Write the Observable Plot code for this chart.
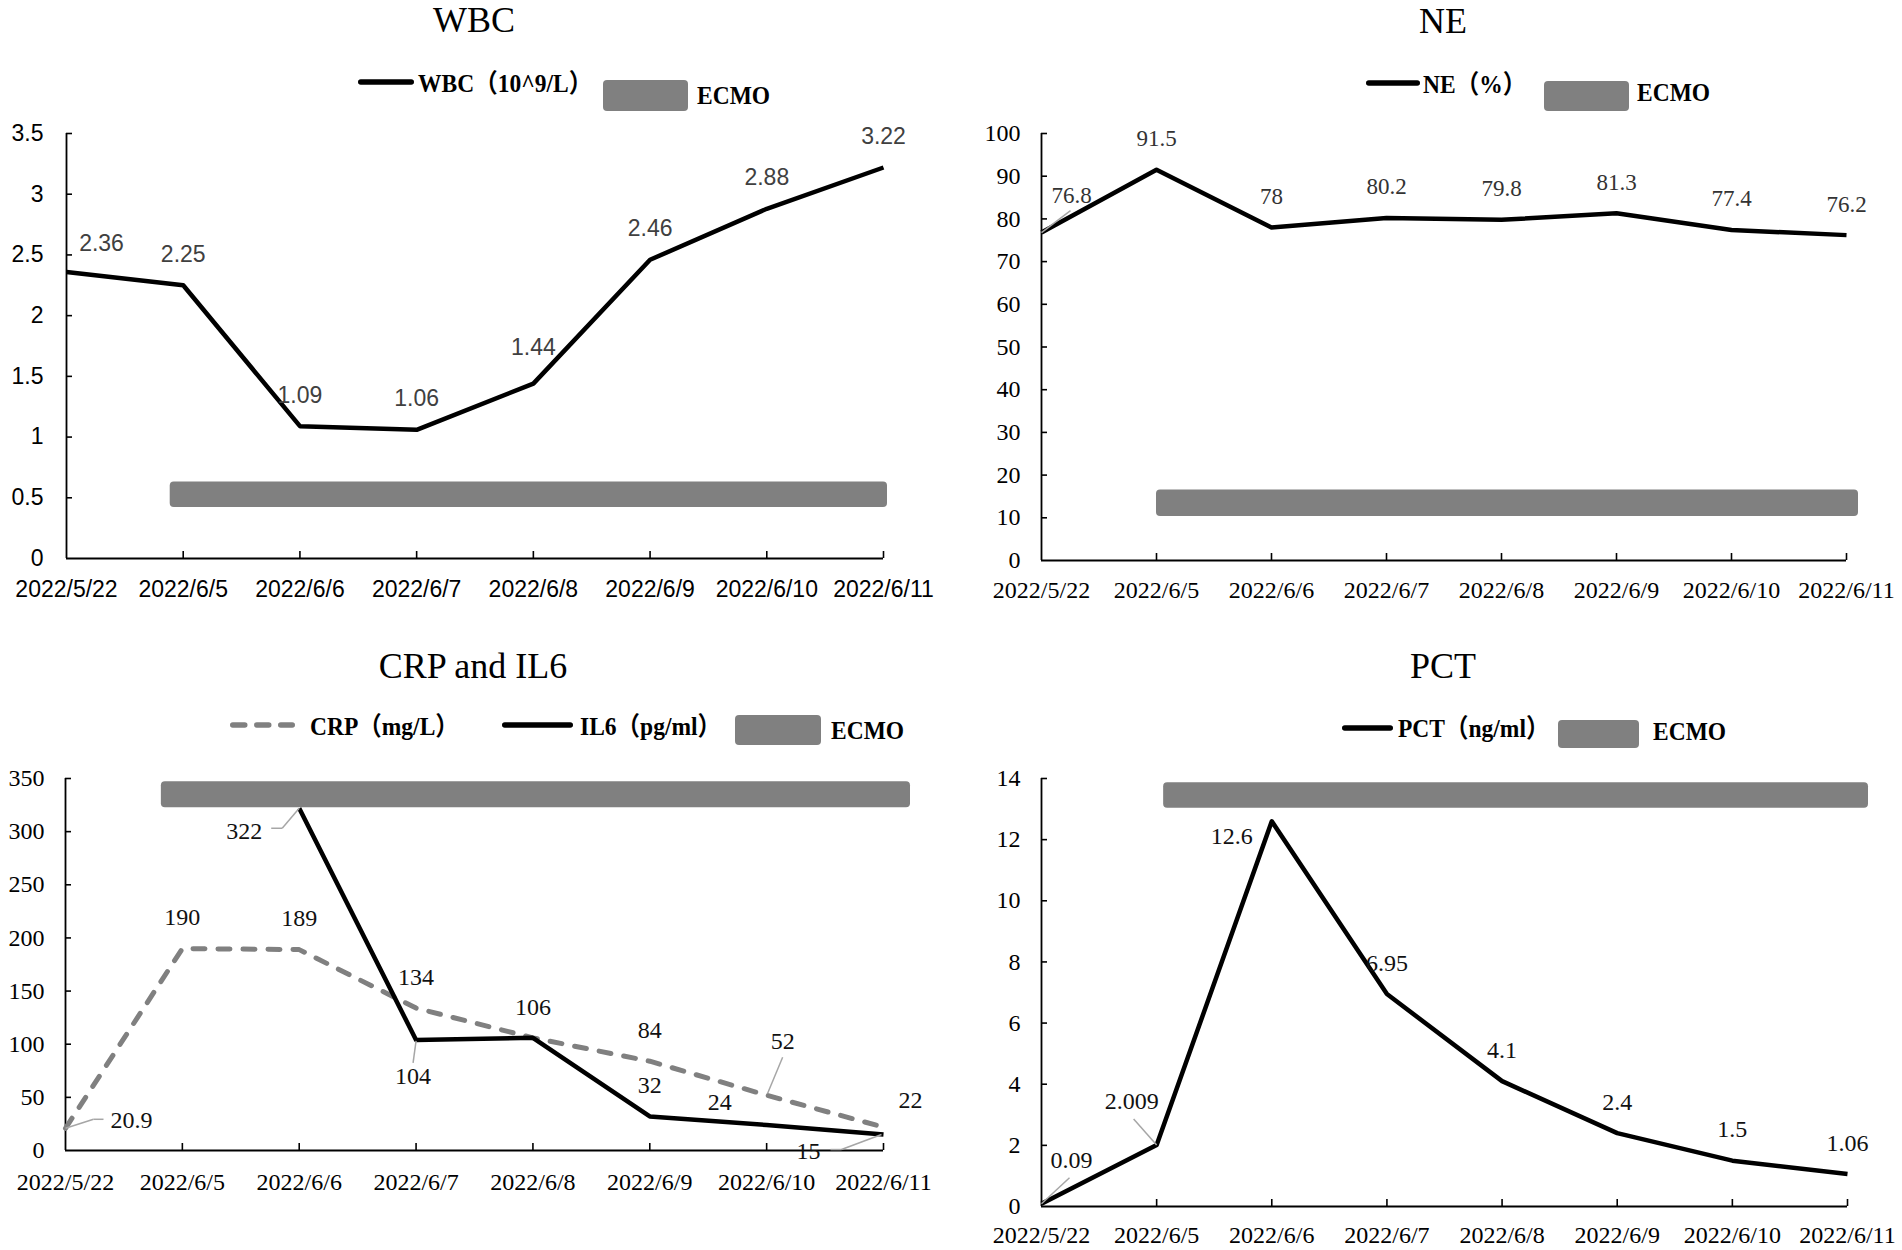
<!DOCTYPE html>
<html><head><meta charset="utf-8">
<script src="https://cdn.jsdelivr.net/npm/d3@7"></script>
<script src="https://cdn.jsdelivr.net/npm/@observablehq/plot@0.6"></script>
<style>
body{margin:0;background:#fff;}
#fig{position:relative;width:1902px;height:1250px;overflow:hidden;background:#fff;}
.abs{position:absolute;white-space:nowrap;line-height:1;}
.title{font-family:'Liberation Serif','Times New Roman',serif;font-size:36px;color:#000;}
.leg{font-family:'Liberation Serif','Noto Sans CJK SC',serif;font-weight:bold;font-size:23.5px;color:#000;}
</style></head><body><div id="fig"></div>
<script>
// ---------- data ----------
const dates = ["2022/5/22","2022/6/5","2022/6/6","2022/6/7","2022/6/8","2022/6/9","2022/6/10","2022/6/11"];
const wbcValues = [2.36,2.25,1.09,1.06,1.44,2.46,2.88,3.22];
const neValues  = [76.8,91.5,78,80.2,79.8,81.3,77.4,76.2];
const crpValues = [20.9,190,189,134,106,84,52,22];
const il6Values = [null,null,322,104,106,32,24,15];
const pctValues = [0.09,2.009,12.6,6.95,4.1,2.4,1.5,1.06];
const wbcTicks = [0,0.5,1,1.5,2,2.5,3,3.5];
const neTicks  = [0,10,20,30,40,50,60,70,80,90,100];
const crpTicks = [0,50,100,150,200,250,300,350];
const pctTicks = [0,2,4,6,8,10,12,14];
const ecmoStart = "2022/6/5";
const ecmoEnd = "2022/6/11";
const titles = ["WBC","NE","CRP and IL6","PCT"];
const seriesNames = {wbc:"WBC（10^9/L）", ne:"NE（%）", crp:"CRP（mg/L）", il6:"IL6（pg/ml）", pct:"PCT（ng/ml）"};
const ecmoName = "ECMO";

// ---------- styles ----------
const serif = "'Liberation Serif','Times New Roman',serif";
const sans = "'Liberation Sans',Arial,sans-serif";
const fig = document.getElementById("fig");
const NS = "http://www.w3.org/2000/svg";

function putText(cls, txt, x, yc, anchor, sy) {
  const el = document.createElement("div");
  el.className = "abs " + cls;
  el.textContent = txt;
  el.style.left = x + "px";
  el.style.top = yc + "px";
  el.style.transform = (anchor === "middle" ? "translateX(-50%) " : "") + "translateY(-50%)" + (sy ? ` scaleY(${sy})` : "");
  fig.appendChild(el);
}
function putBox(x1, y1, x2, y2) {
  const el = document.createElement("div");
  el.className = "abs";
  Object.assign(el.style, {left: x1+"px", top: y1+"px", width: (x2-x1)+"px", height: (y2-y1)+"px", background: "#808080", borderRadius: "4px"});
  fig.appendChild(el);
}
function putSample(x1, x2, y, stroke, w, dash) {
  const svg = document.createElementNS(NS, "svg");
  svg.setAttribute("width", x2 - x1 + 10); svg.setAttribute("height", 14);
  Object.assign(svg.style, {position: "absolute", left: (x1-5)+"px", top: (y-7)+"px"});
  const l = document.createElementNS(NS, "line");
  l.setAttribute("x1", 5 + w/2); l.setAttribute("x2", x2 - x1 + 5 - w/2);
  l.setAttribute("y1", 7); l.setAttribute("y2", 7);
  l.setAttribute("stroke", stroke); l.setAttribute("stroke-width", w);
  l.setAttribute("stroke-linecap", "round");
  if (dash) l.setAttribute("stroke-dasharray", dash);
  svg.appendChild(l);
  fig.appendChild(svg);
}

function panel(cfg) {
  const {left, top, width, height, ml, mr, mt, mb, yTicks, series, ecmo, tick, lab, gapY, padX, overrides = {}, skip = []} = cfg;
  const n = dates.length;
  const yMax = yTicks[yTicks.length - 1];
  const pxX = (width - ml - mr) / (n - 1), pxY = (height - mt - mb) / yMax;
  const idx = d3.range(n);
  const marks = [];
  marks.push(Plot.rect([{s: dates.indexOf(ecmoStart), e: dates.indexOf(ecmoEnd)}], {
    x1: d => d.s, x2: d => d.e, y1: () => ecmo.y1, y2: () => ecmo.y2,
    fill: "#808080", rx: 4, insetLeft: ecmo.il, insetRight: ecmo.ir
  }));
  marks.push(Plot.ruleY(yTicks.slice(1), {y: d => d, x1: () => 0, x2: () => 6 / pxX, stroke: "#000", strokeWidth: 1.6}));
  marks.push(Plot.ruleX(idx.slice(1), {x: d => d, y1: () => 0, y2: () => 7 / pxY, stroke: "#000", strokeWidth: 1.6}));
  marks.push(Plot.ruleY([0], {x1: () => 0, x2: () => n - 1, stroke: "#000", strokeWidth: 1.8}));
  marks.push(Plot.ruleX([0], {y1: () => 0, y2: () => yMax, stroke: "#000", strokeWidth: 1.8}));
  marks.push(Plot.axisY(yTicks, {tickSize: 0, tickPadding: gapY, tickFormat: d => String(d), fontSize: tick.size, fontFamily: tick.family, fill: tick.color, label: null}));
  marks.push(Plot.axisX(idx, {tickSize: 0, tickPadding: padX, tickFormat: i => dates[i], fontSize: tick.size, fontFamily: tick.family, fill: tick.color, label: null}));
  const rowsOf = s => idx.map(i => ({i, v: s.values[i]})).filter(d => d.v != null);
  series.forEach(s => {
    marks.push(Plot.line(rowsOf(s), {x: "i", y: "v", stroke: s.stroke, strokeWidth: s.width,
      strokeDasharray: s.dash, strokeLinecap: s.dash ? "round" : "butt", strokeLinejoin: "round"}));
  });
  series.forEach((s, si) => {
    rowsOf(s).forEach(d => {
      const key = si + ":" + d.i;
      if (skip.includes(key)) return;
      const o = Object.assign({dx: 0, dy: lab.dy}, overrides[key] || {});
      if (o.lead) {
        const segs = [];
        for (let k = 0; k + 1 < o.lead.length; k++) segs.push({i: d.i, v: d.v, a: o.lead[k], b: o.lead[k+1]});
        marks.push(Plot.link(segs, {
          x1: e => e.i + e.a[0] / pxX, y1: e => e.v - e.a[1] / pxY,
          x2: e => e.i + e.b[0] / pxX, y2: e => e.v - e.b[1] / pxY,
          stroke: "#a6a6a6", strokeWidth: 1.5
        }));
      }
      marks.push(Plot.text([d], {x: "i", y: "v", text: e => String(e.v), dx: o.dx, dy: o.dy,
        lineAnchor: "middle", textAnchor: "middle", fontSize: lab.size, fontFamily: lab.family, fill: lab.color}));
    });
  });
  const svg = Plot.plot({
    width, height, marginLeft: ml, marginRight: mr, marginTop: mt, marginBottom: mb,
    x: {type: "linear", domain: [0, n - 1]},
    y: {type: "linear", domain: [0, yMax]},
    style: {position: "absolute", left: left + "px", top: top + "px", overflow: "visible", background: "transparent"},
    marks
  });
  fig.appendChild(svg);
}

const sansTick = {size: 23, family: sans, color: "#000"};
const serifTick = {size: 24, family: serif, color: "#000"};

// ---------- WBC ----------
putText("title", titles[0], 474, 20, "middle");
putSample(358, 414, 82, "#000", 5.5);
putText("leg", seriesNames.wbc, 418, 84, "start", 1.1);
putBox(603, 80, 688, 111);
putText("leg", ecmoName, 697, 96, "start", 1.05);
panel({
  left: 0, top: 115, width: 951, height: 510, ml: 66, mr: 68, mt: 18, mb: 67,
  yTicks: wbcTicks, gapY: 23, padX: 22,
  tick: sansTick, lab: {size: 23, family: sans, color: "#404040", dy: -31},
  series: [{values: wbcValues, stroke: "#000", width: 4.5}],
  ecmo: {y1: 0.42, y2: 0.63, il: -13, ir: -4},
  overrides: {"0:0": {dx: 35, dy: -28}, "0:4": {dy: -36}}
});

// ---------- NE ----------
putText("title", titles[1], 1443, 21, "middle");
putSample(1366, 1420, 83, "#000", 5.5);
putText("leg", seriesNames.ne, 1423, 85, "start", 1.1);
putBox(1544, 81, 1629, 111);
putText("leg", ecmoName, 1637, 93, "start", 1.05);
panel({
  left: 951, top: 115, width: 951, height: 510, ml: 90, mr: 56, mt: 18, mb: 65,
  yTicks: neTicks, gapY: 21, padX: 20,
  tick: serifTick, lab: {size: 23, family: serif, color: "#333", dy: -31},
  series: [{values: neValues, stroke: "#000", width: 4.5}],
  ecmo: {y1: 10.3, y2: 16.5, il: 0, ir: -12},
  overrides: {"0:0": {dx: 30, dy: -37, lead: [[0, 0], [29, -22]]}}
});

// ---------- CRP and IL6 ----------
putText("title", titles[2], 473, 666, "middle");
putSample(230, 295, 725, "#808080", 5.5, "12,12");
putText("leg", seriesNames.crp, 310, 727, "start", 1.1);
putSample(502, 573, 725, "#000", 5.5);
putText("leg", seriesNames.il6, 580, 727, "start", 1.1);
putBox(735, 715, 821, 745);
putText("leg", ecmoName, 831, 731, "start", 1.05);
panel({
  left: 0, top: 755, width: 951, height: 495, ml: 65, mr: 68, mt: 23, mb: 100,
  yTicks: crpTicks, gapY: 21, padX: 22,
  tick: serifTick, lab: {size: 24, family: serif, color: "#111", dy: -31},
  series: [
    {values: crpValues, stroke: "#808080", width: 5, dash: "12,13"},
    {values: il6Values, stroke: "#000", width: 4.5}
  ],
  ecmo: {y1: 322.5, y2: 347, il: -21, ir: -27},
  skip: ["1:4"],
  overrides: {
    "0:0": {dx: 66, dy: -8, lead: [[0, 0], [28, -9], [38, -9]]},
    "0:6": {dx: 16, dy: -54, lead: [[1, -2], [16, -38]]},
    "0:7": {dx: 27, dy: -27},
    "1:2": {dx: -55, dy: 23, lead: [[0, 0], [-17, 20], [-28, 20]]},
    "1:3": {dx: -3, dy: 36, lead: [[0, 1], [-3, 23]]},
    "1:6": {dx: -47, dy: -23},
    "1:7": {dx: -75, dy: 17, lead: [[-2, 0], [-42, 15], [-53, 15]]}
  }
});

// ---------- PCT ----------
putText("title", titles[3], 1443, 666, "middle");
putSample(1342, 1393, 728, "#000", 5.5);
putText("leg", seriesNames.pct, 1398, 729, "start", 1.1);
putBox(1558, 720, 1639, 748);
putText("leg", ecmoName, 1653, 732, "start", 1.05);
panel({
  left: 951, top: 755, width: 951, height: 495, ml: 90, mr: 55, mt: 23, mb: 44,
  yTicks: pctTicks, gapY: 21, padX: 19,
  tick: serifTick, lab: {size: 24, family: serif, color: "#111", dy: -31},
  series: [{values: pctValues, stroke: "#000", width: 4.5}],
  ecmo: {y1: 13.03, y2: 13.86, il: 7, ir: -21},
  overrides: {
    "0:0": {dx: 30, dy: -43, lead: [[0, 0], [28, -26]]},
    "0:1": {dx: -25, dy: -44, lead: [[0, 0], [-23, -26]]},
    "0:2": {dx: -40, dy: 15}
  }
});
</script>
</body></html>
